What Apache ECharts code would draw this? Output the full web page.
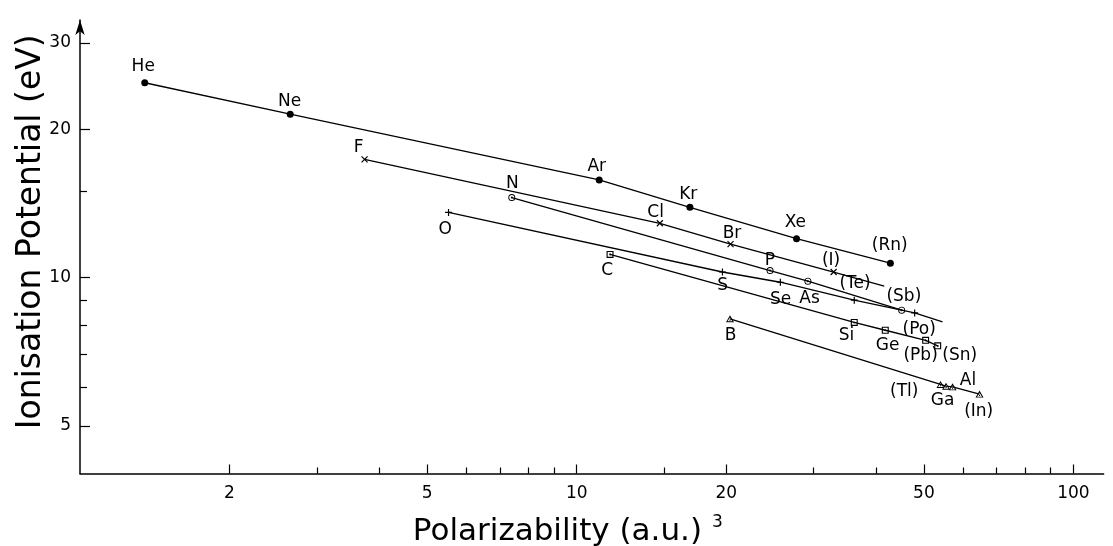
<!DOCTYPE html>
<html>
<head>
<meta charset="utf-8">
<script src="https://cdn.jsdelivr.net/npm/echarts@6/dist/echarts.min.js"></script>
<style>html,body{margin:0;padding:0;background:#fff;}#c{width:1113px;height:546px;}</style>
</head>
<body>
<div id="c"></div>
<script>
// ---- data ----
const nobleNames = ['He', 'Ne', 'Ar', 'Kr', 'Xe', '(Rn)'];
const nobleX = [1.35, 2.65, 11.1, 16.9, 27.7, 42.8];
const nobleY = [24.9, 21.5, 15.8, 13.9, 12.0, 10.7];

const halogenNames = ['F', 'Cl', 'Br', '(I)'];
const halogenX = [3.74, 14.7, 20.4, 32.9];
const halogenY = [17.4, 12.9, 11.7, 10.27];
const halogenTail = [41.6, 9.61];

const pnictogenNames = ['N', 'P', 'As', '(Sb)'];
const pnictogenX = [7.40, 24.5, 29.2, 45.1];
const pnictogenY = [14.55, 10.34, 9.84, 8.59];

const chalcogenNames = ['O', 'S', 'Se', '(Te)', '(Po)'];
const chalcogenX = [5.52, 19.65, 25.7, 36.2, 47.9];
const chalcogenY = [13.57, 10.27, 9.79, 9.0, 8.48];
const chalcogenTail = [54.5, 8.13];

const tetrelNames = ['C', 'Si', 'Ge', '(Pb)', '(Sn)'];
const tetrelX = [11.67, 36.2, 41.8, 50.4, 53.3];
const tetrelY = [11.15, 8.11, 7.82, 7.46, 7.27];

const trielNames = ['B', '(Tl)', 'Ga', 'Al', '(In)'];
const trielX = [20.35, 54.0, 55.4, 57.1, 64.7];
const trielY = [8.25, 6.07, 6.02, 6.0, 5.80];

const xMajorTicks = [2, 5, 10, 20, 50, 100];
const xMinorTicks = [3, 4, 6, 7, 8, 9, 15, 30, 40, 60, 70, 80, 90];
const yMajorTicks = [5, 10, 20, 30];
const yMinorTicks = [6, 7, 8, 9, 15];

// ---- styling ----
const LABEL_OFFSET = {
  'He': [-1.5, -16.4], 'Ne': [-0.7, -12.8], 'Ar': [-2.5, -13], 'Kr': [-1.7, -12.8], 'Xe': [-1.2, -15.8], '(Rn)': [-0.7, -17.5],
  'F': [-6, -12], 'Cl': [-4.2, -10.5], 'Br': [1.5, -10.2], '(I)': [-2.6, -11.2],
  'N': [0.7, -14.3], 'P': [-0.2, -10.3], 'As': [1.7, 17.3], '(Sb)': [2.2, -13.3],
  'O': [-3.3, 17.4], 'S': [0.3, 13.3], 'Se': [0.2, 17.3], '(Te)': [0.8, -16.7], '(Po)': [4.5, 16.5],
  'C': [-2.9, 16.2], 'Si': [-7.7, 13.5], 'Ge': [2.4, 15.8], '(Pb)': [-5, 15], '(Sn)': [22, 9.3],
  'B': [0.7, 17], '(Tl)': [-36.3, 7.4], 'Ga': [-3.4, 14.8], 'Al': [15.4, -5.9], '(In)': [-0.8, 17.4]
};
const FONT = 'DejaVu Sans';
const SYM = {
  dot: 'circle',
  cross: 'path://M0,0L10,10M10,0L0,10',
  ring: 'path://M10,0A10,10,0,1,1,-10,0A10,10,0,1,1,10,0ZM7.3,0A7.3,7.3,0,1,0,-7.3,0A7.3,7.3,0,1,0,7.3,0ZM2.8,0A2.8,2.8,0,1,1,-2.8,0A2.8,2.8,0,1,1,2.8,0Z',
  plus: 'path://M5,0L5,10M0,5L10,5',
  square: 'path://M0,0L10,0L10,10L0,10ZM1.6,1.6L1.6,8.4L8.4,8.4L8.4,1.6ZM3.8,3.8L6.2,3.8L6.2,6.2L3.8,6.2Z',
  tri: 'path://M5,0L10,9L0,9ZM5,2.7L1.9,7.8L8.1,7.8ZM4.3,5.7L5.7,5.7L5.7,7L4.3,7Z'
};

function makeData(names, xs, ys, tail) {
  const d = names.map((n, i) => ({
    name: n,
    value: [xs[i], ys[i]],
    label: { show: true, formatter: n, offset: LABEL_OFFSET[n] || [0, 0] }
  }));
  if (tail) d.push({ value: tail, symbol: 'none', label: { show: false } });
  return d;
}

function group(names, xs, ys, tail, symbol, size, stroke) {
  return {
    type: 'line',
    data: makeData(names, xs, ys, tail),
    symbol: symbol,
    symbolSize: size,
    showAllSymbol: true,
    lineStyle: { color: '#000', width: 1.3 },
    itemStyle: stroke
      ? { color: '#000', borderColor: '#000', borderWidth: 1.2 }
      : { color: '#000', borderWidth: 0 },
    label: {
      show: true, position: 'inside', color: '#000',
      fontFamily: FONT, fontSize: 17
    },
    emphasis: { disabled: true },
    animation: false,
    z: 3
  };
}

const chart = echarts.init(document.getElementById('c'), null, { renderer: 'canvas' });

const axisLineStyle = { color: '#000', width: 1.5 };
const tickLineStyle = { color: '#000', width: 1.2 };

chart.setOption({
  backgroundColor: '#fff',
  animation: false,
  grid: { left: 80, right: 9.4, top: 20, bottom: 72.5, containLabel: false, outerBoundsMode: 'none' },
  xAxis: [
    {
      type: 'log', logBase: 10, min: 1, max: 115, position: 'bottom',
      axisLine: { show: true, lineStyle: axisLineStyle },
      axisTick: { show: true, inside: true, length: 9, customValues: xMajorTicks, lineStyle: tickLineStyle },
      axisLabel: { show: true, customValues: xMajorTicks, formatter: v => String(v), margin: 12,
        color: '#000', fontFamily: FONT, fontSize: 17 },
      splitLine: { show: false }, minorTick: { show: false },
      name: '{t|Polarizability (a.u.)} {sup|3}',
      nameLocation: 'middle', nameGap: 41,
      nameTextStyle: {
        color: '#000', fontFamily: FONT, fontSize: 31, padding: [0, 48, 0, 0],
        rich: {
          t: { fontFamily: FONT, fontSize: 31, color: '#000', lineHeight: 34 },
          sup: { fontFamily: FONT, fontSize: 17, color: '#000', verticalAlign: 'top', lineHeight: 18 }
        }
      }
    },
    {
      type: 'log', logBase: 10, min: 1, max: 115, position: 'bottom',
      axisLine: { show: false },
      axisTick: { show: true, inside: true, length: 6, customValues: xMinorTicks, lineStyle: tickLineStyle },
      axisLabel: { show: false },
      splitLine: { show: false }
    }
  ],
  yAxis: [
    {
      type: 'log', logBase: 10, min: 4, max: 33.4, position: 'left',
      axisLine: { show: true, lineStyle: axisLineStyle, symbol: ['none', 'arrow'], symbolSize: [7, 15] },
      axisTick: { show: true, inside: true, length: 10, customValues: yMajorTicks, lineStyle: tickLineStyle },
      axisLabel: { show: true, customValues: yMajorTicks, formatter: v => String(v), margin: 9,
        color: '#000', fontFamily: FONT, fontSize: 17 },
      splitLine: { show: false }, minorTick: { show: false },
      name: 'Ionisation Potential (eV)',
      nameLocation: 'middle', nameGap: 32.5, nameRotate: 90, nameMoveOverlap: false,
      nameTextStyle: { color: '#000', fontFamily: FONT, fontSize: 33, padding: [0, 0, 0, 30] }
    },
    {
      type: 'log', logBase: 10, min: 4, max: 33.4, position: 'left',
      axisLine: { show: false },
      axisTick: { show: true, inside: true, length: 7, customValues: yMinorTicks, lineStyle: tickLineStyle },
      axisLabel: { show: false },
      splitLine: { show: false }
    }
  ],
  series: [
    group(nobleNames, nobleX, nobleY, null, SYM.dot, 7, false),
    group(halogenNames, halogenX, halogenY, halogenTail, SYM.cross, 6, true),
    group(pnictogenNames, pnictogenX, pnictogenY, null, SYM.ring, 7, false),
    group(chalcogenNames, chalcogenX, chalcogenY, chalcogenTail, SYM.plus, 7, true),
    group(tetrelNames, tetrelX, tetrelY, null, SYM.square, 7, false),
    group(trielNames, trielX, trielY, null, SYM.tri, [8, 7], false)
  ]
});
</script>
</body>
</html>
